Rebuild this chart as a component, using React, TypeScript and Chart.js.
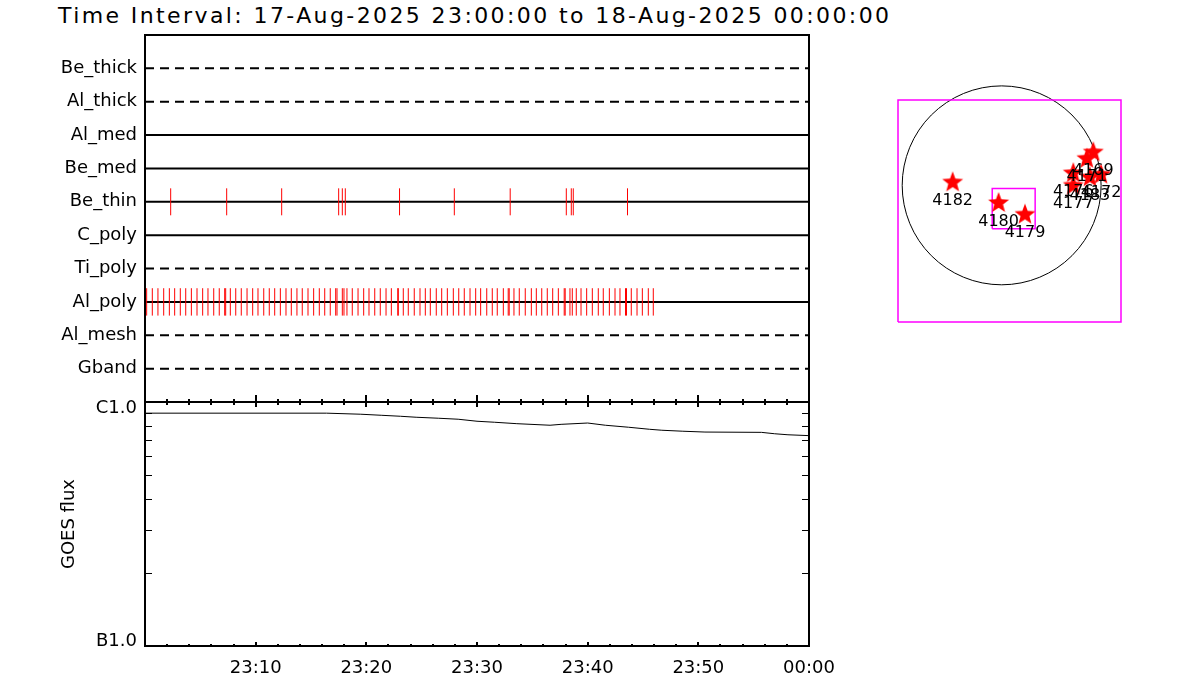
import React, { useEffect, useRef } from 'react';
import { Chart, registerables } from 'chart.js';

Chart.register(...registerables);

const FONT = '"DejaVu Sans", "Liberation Sans", sans-serif';

const titleText = 'Time Interval: 17-Aug-2025 23:00:00 to 18-Aug-2025 00:00:00';

// Filter rows, top to bottom
const filterNames = ['Be_thick', 'Al_thick', 'Al_med', 'Be_med', 'Be_thin', 'C_poly', 'Ti_poly', 'Al_poly', 'Al_mesh', 'Gband'];
const filterRows = [10, 9, 8, 7, 6, 5, 4, 3, 2, 1];
const filterDashed = [true, true, false, false, false, false, true, false, true, true];

// Exposure times (minutes after 23:00)
const beThinMinutes = [2.32, 7.38, 12.35, 17.5, 17.83, 18.1, 23.0, 27.95, 33.0, 38.07, 38.52, 38.7, 43.6];
const alPolyMinutes = [
  0.15, 0.66, 1.17, 1.69, 2.2, 2.68, 3.19, 3.68, 4.19, 4.7, 5.21, 5.69, 6.21, 6.71, 7.2, 7.29, 7.71, 8.2,
  8.7, 9.22, 9.73, 10.21, 10.73, 11.23, 11.72, 12.23, 12.74, 13.22, 13.73, 14.21, 14.73, 15.24, 15.75,
  16.24, 16.74, 17.23, 17.35, 17.83, 17.98, 18.25, 18.73, 19.25, 19.76, 20.24, 20.76, 21.26, 21.78,
  22.26, 22.84, 22.89, 23.34, 23.79, 24.33, 24.85, 25.33, 25.78, 26.32, 26.81, 27.32, 27.86, 28.35,
  28.85, 29.37, 29.88, 30.33, 30.88, 31.38, 31.83, 32.38, 32.82, 32.91, 33.34, 33.82, 34.36, 34.91,
  35.36, 35.85, 36.35, 36.84, 37.35, 37.88, 37.97, 38.4, 38.61, 38.97, 39.4, 39.91, 40.42, 40.96,
  41.41, 41.96, 42.47, 42.92, 43.42, 43.51, 43.94, 44.46, 44.94, 45.48, 45.93,
];

// GOES flux (W/m^2)
const goesMinutes = [0, 16.4, 19.5, 21.4, 23.1, 24.5, 26.5, 28.3, 30.0, 31.6, 33.6, 36.6, 37.6, 40.0, 41.6, 43.7, 45.6, 46.7, 48.6, 50.6, 55.7, 56.9, 58.1, 60];
const goesFlux = [9.0e-7, 9.0e-7, 8.91e-7, 8.82e-7, 8.74e-7, 8.66e-7, 8.58e-7, 8.5e-7, 8.34e-7, 8.26e-7, 8.15e-7, 8.03e-7, 8.1e-7, 8.2e-7, 8.03e-7, 7.88e-7, 7.73e-7, 7.66e-7, 7.59e-7, 7.53e-7, 7.51e-7, 7.41e-7, 7.34e-7, 7.28e-7];

// Time axis ticks
const timeMajorTicks = [0, 10, 20, 30, 40, 50, 60];
const timeMinorTicks = [2, 4, 6, 8, 12, 14, 16, 18, 22, 24, 26, 28, 32, 34, 36, 38, 42, 44, 46, 48, 52, 54, 56, 58];
const timeLabelValues = [10, 20, 30, 40, 50, 60];
const timeLabels = ['23:10', '23:20', '23:30', '23:40', '23:50', '00:00'];

// GOES axis ticks
const goesLabelValues = [1e-7, 1e-6];
const goesLabels = ['B1.0', 'C1.0'];
const goesLabelShift = [-5, 6];
const goesMinorTicks = [2e-7, 3e-7, 4e-7, 5e-7, 6e-7, 7e-7, 8e-7, 9e-7];

// Sun map (arcsec)
const mapXRange = [-990, 1140];
const mapYRange = [-1305, 815];
const sunRadius = 950;
const subFovX = [-90, 320];
const subFovY = [-414, -30];
const regionLabels = ['4182', '4180', '4179', '4169', '4171', '4176', '4183', '4172', '4177'];
const regionX = [-468, -29, 223, 875, 814, 684, 843, 949, 684];
const regionY = [38, -159, -270, 325, 264, 126, 86, 112, 7];

function makeStar(R: number): HTMLCanvasElement {
  const size = Math.ceil(R * 2 + 2);
  const c = document.createElement('canvas');
  c.width = size;
  c.height = size;
  const g = c.getContext('2d')!;
  const cx = size / 2;
  const cy = size / 2;
  g.beginPath();
  for (let i = 0; i < 10; i++) {
    const r = i % 2 === 0 ? R : R * 0.42;
    const a = -Math.PI / 2 + (i * Math.PI) / 5;
    const px = cx + r * Math.cos(a);
    const py = cy + r * Math.sin(a) + R * 0.1;
    if (i === 0) g.moveTo(px, py);
    else g.lineTo(px, py);
  }
  g.closePath();
  g.fillStyle = '#ff0000';
  g.fill();
  return c;
}

const frameTicksPlugin = {
  id: 'frameTicks',
  afterDatasetsDraw(chart: any) {
    const { ctx, chartArea } = chart;
    const { left, right } = chartArea;
    const x = chart.scales.x;
    const yF = chart.scales.yF;
    const yG = chart.scales.yG;
    const line = (x1: number, y1: number, x2: number, y2: number) => {
      ctx.beginPath();
      ctx.moveTo(x1, y1);
      ctx.lineTo(x2, y2);
      ctx.stroke();
    };
    ctx.save();
    ctx.strokeStyle = '#000';
    ctx.lineWidth = 2;
    ctx.strokeRect(left, yF.top, right - left, yF.bottom - yF.top);
    ctx.strokeRect(left, yG.top, right - left, yG.bottom - yG.top);
    const yb = yG.top;
    for (const v of timeMajorTicks) {
      const px = Math.round(x.getPixelForValue(v));
      line(px, yb - 7, px, yb + 5);
    }
    for (const v of timeMinorTicks) {
      const px = Math.round(x.getPixelForValue(v));
      line(px, yb - 3, px, yb + 3);
    }
    const ybot = yG.bottom;
    for (const v of timeMajorTicks) {
      const px = Math.round(x.getPixelForValue(v));
      line(px, ybot - 4, px, ybot);
    }
    for (const v of timeMinorTicks) {
      const px = Math.round(x.getPixelForValue(v));
      line(px, ybot - 2, px, ybot);
    }
    ctx.lineWidth = 1;
    for (const v of goesMinorTicks) {
      const py = Math.round(yG.getPixelForValue(v)) + 0.5;
      line(left, py, left + 7, py);
      line(right - 7, py, right, py);
    }
    // GOES class labels
    ctx.fillStyle = '#000';
    ctx.font = `18px ${FONT}`;
    ctx.textAlign = 'right';
    ctx.textBaseline = 'middle';
    goesLabelValues.forEach((v, i) => {
      ctx.fillText(goesLabels[i], left - 8, yG.getPixelForValue(v) + goesLabelShift[i]);
    });
    ctx.restore();
  },
};

const sunPlugin = {
  id: 'sunDisk',
  beforeDatasetsDraw(chart: any) {
    const { ctx } = chart;
    const x = chart.scales.x;
    const y = chart.scales.y;
    const cx = x.getPixelForValue(0);
    const cy = y.getPixelForValue(0);
    const r = x.getPixelForValue(sunRadius) - cx;
    ctx.save();
    ctx.strokeStyle = '#000';
    ctx.lineWidth = 1;
    ctx.beginPath();
    ctx.arc(cx, cy, r, 0, Math.PI * 2);
    ctx.stroke();
    ctx.restore();
  },
  afterDatasetsDraw(chart: any) {
    const { ctx } = chart;
    const x = chart.scales.x;
    const y = chart.scales.y;
    ctx.save();
    ctx.fillStyle = '#000';
    ctx.font = `16px ${FONT}`;
    ctx.textAlign = 'center';
    ctx.textBaseline = 'middle';
    regionLabels.forEach((lab, i) => {
      const px = x.getPixelForValue(regionX[i]);
      const py = y.getPixelForValue(regionY[i]);
      ctx.fillText(lab, px, py + 19.5);
    });
    ctx.restore();
  },
};

export default function App() {
  const mainRef = useRef<HTMLCanvasElement>(null);
  const mapRef = useRef<HTMLCanvasElement>(null);

  useEffect(() => {
    Chart.defaults.font.family = FONT;
    Chart.defaults.color = '#000';

    const rowDatasets = filterNames.map((name, i) => ({
      type: 'line' as const,
      label: name,
      data: [
        { x: 0, y: filterRows[i] },
        { x: 60, y: filterRows[i] },
      ],
      yAxisID: 'yF',
      borderColor: '#000',
      borderWidth: 2,
      borderDash: filterDashed[i] ? [9, 6] : [],
      pointRadius: 0,
      order: 2,
    }));

    const beThinRow = filterRows[filterNames.indexOf('Be_thin')];
    const alPolyRow = filterRows[filterNames.indexOf('Al_poly')];

    const main = new Chart(mainRef.current!, {
      type: 'line',
      data: {
        datasets: [
          {
            type: 'scatter',
            label: 'Be_thin exposures',
            data: beThinMinutes.map((t) => ({ x: t, y: beThinRow })),
            yAxisID: 'yF',
            pointStyle: 'line',
            pointRotation: 90,
            pointRadius: 13.5,
            pointBorderColor: '#ff0000',
            pointBorderWidth: 1,
            order: 0,
          } as any,
          {
            type: 'scatter',
            label: 'Al_poly exposures',
            data: alPolyMinutes.map((t) => ({ x: t, y: alPolyRow })),
            yAxisID: 'yF',
            pointStyle: 'line',
            pointRotation: 90,
            pointRadius: 13.7,
            pointBorderColor: '#ff0000',
            pointBorderWidth: 1,
            order: 0,
          } as any,
          ...rowDatasets,
          {
            type: 'line',
            label: 'GOES',
            data: goesMinutes.map((t, i) => ({ x: t, y: goesFlux[i] })),
            yAxisID: 'yG',
            borderColor: '#000',
            borderWidth: 1,
            pointRadius: 0,
            tension: 0,
            order: 1,
          },
        ],
      },
      options: {
        animation: false,
        responsive: false,
        events: [],
        layout: { padding: { left: 0, top: 35, right: 51, bottom: 0 } },
        plugins: { legend: { display: false }, tooltip: { enabled: false } },
        scales: {
          x: {
            type: 'linear',
            min: 0,
            max: 60,
            position: 'bottom',
            afterBuildTicks: (s: any) => {
              s.ticks = timeLabelValues.map((v) => ({ value: v }));
            },
            afterFit: (s: any) => {
              s.height = 54;
            },
            ticks: {
              callback: (_v: any, i: number) => timeLabels[i],
              font: { family: FONT, size: 18 },
              color: '#000',
              padding: 12,
              maxRotation: 0,
              autoSkip: false,
            },
            grid: { display: false, drawTicks: false },
            border: { display: false },
          },
          yG: {
            type: 'logarithmic',
            min: 1e-7,
            max: 1e-6,
            position: 'left',
            stack: 'panels',
            stackWeight: 244,
            afterFit: (s: any) => {
              s.width = 145;
            },
            ticks: { display: false },
            title: {
              display: true,
              text: 'GOES flux',
              font: { family: FONT, size: 18 },
              color: '#000',
              padding: { top: 59, bottom: 0 },
            },
            grid: { display: false, drawTicks: false },
            border: { display: false },
          },
          yF: {
            type: 'linear',
            min: 0,
            max: 11,
            position: 'left',
            stack: 'panels',
            stackWeight: 367,
            afterBuildTicks: (s: any) => {
              s.ticks = filterRows.map((v) => ({ value: v }));
            },
            afterFit: (s: any) => {
              s.width = 145;
            },
            ticks: {
              callback: (_v: any, i: number) => filterNames[i],
              font: { family: FONT, size: 18 },
              color: '#000',
              padding: 8,
              autoSkip: false,
            },
            grid: { display: false, drawTicks: false },
            border: { display: false },
          },
        },
      } as any,
      plugins: [frameTicksPlugin],
    });

    const star = makeStar(11);
    const map = new Chart(mapRef.current!, {
      type: 'scatter',
      data: {
        datasets: [
          {
            label: 'Regions',
            data: regionX.map((x, i) => ({ x, y: regionY[i] })),
            pointStyle: star,
            pointRadius: 11,
            order: 0,
          } as any,
          {
            label: 'Sub FOV',
            type: 'line',
            data: [
              { x: subFovX[0], y: subFovY[0] },
              { x: subFovX[1], y: subFovY[0] },
              { x: subFovX[1], y: subFovY[1] },
              { x: subFovX[0], y: subFovY[1] },
              { x: subFovX[0], y: subFovY[0] },
            ],
            borderColor: '#ff00ff',
            borderWidth: 1.5,
            pointRadius: 0,
            tension: 0,
            order: 1,
          },
          {
            label: 'FOV',
            type: 'line',
            data: [
              { x: mapXRange[0], y: mapYRange[0] },
              { x: mapXRange[1], y: mapYRange[0] },
              { x: mapXRange[1], y: mapYRange[1] },
              { x: mapXRange[0], y: mapYRange[1] },
              { x: mapXRange[0], y: mapYRange[0] },
            ],
            borderColor: '#ff00ff',
            borderWidth: 1.5,
            pointRadius: 0,
            tension: 0,
            clip: false,
            order: 1,
          } as any,
        ],
      },
      options: {
        animation: false,
        responsive: false,
        events: [],
        layout: { padding: { left: 18, top: 20, right: 19, bottom: 18 } },
        plugins: { legend: { display: false }, tooltip: { enabled: false } },
        scales: {
          x: { type: 'linear', min: mapXRange[0], max: mapXRange[1], display: false },
          y: { type: 'linear', min: mapYRange[0], max: mapYRange[1], display: false },
        },
      } as any,
      plugins: [sunPlugin],
    });

    return () => {
      main.destroy();
      map.destroy();
    };
  }, []);

  return (
    <div style={{ position: 'fixed', left: 0, top: 0, width: 1200, height: 700, background: '#fff', overflow: 'hidden' }}>
      <div
        style={{
          position: 'absolute',
          left: 58,
          top: 3,
          fontFamily: FONT,
          fontSize: 22,
          letterSpacing: '2.4px',
          lineHeight: '26px',
          whiteSpace: 'nowrap',
          color: '#000',
        }}
      >
        {titleText}
      </div>
      <canvas ref={mainRef} width={860} height={700} style={{ position: 'absolute', left: 0, top: 0 }} />
      <canvas ref={mapRef} width={260} height={260} style={{ position: 'absolute', left: 880, top: 80 }} />
    </div>
  );
}
